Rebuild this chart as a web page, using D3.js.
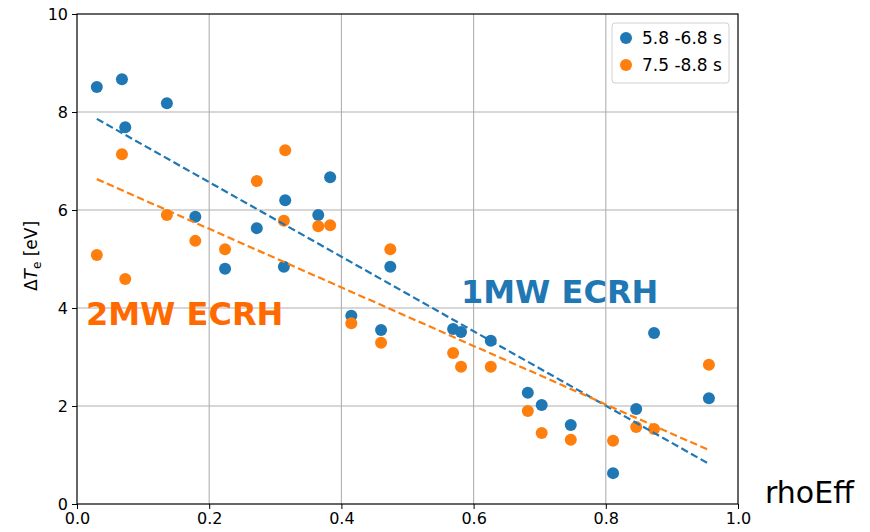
<!DOCTYPE html>
<html>
<head>
<meta charset="utf-8">
<script src="https://cdn.jsdelivr.net/npm/d3@7"></script>
<style>
  body { margin: 0; background: #fff; }
  svg { font-family: "DejaVu Sans", sans-serif; }
</style>
</head>
<body>
<div id="chart"></div>
<script>
// rhoEff positions (same for both time windows)
var rho = [0.030, 0.068, 0.073, 0.136, 0.179, 0.224, 0.272, 0.315, 0.313, 0.365, 0.383, 0.415,
           0.460, 0.474, 0.569, 0.581, 0.626, 0.682, 0.703, 0.747, 0.811, 0.846, 0.873, 0.956];
var teEarly = [8.51, 8.67, 7.69, 8.18, 5.86, 4.80, 5.63, 6.20, 4.84, 5.90, 6.67, 3.84,
               3.55, 4.84, 3.57, 3.51, 3.33, 2.27, 2.02, 1.61, 0.63, 1.94, 3.49, 2.16];
var teLate = [5.08, 7.14, 4.59, 5.90, 5.37, 5.20, 6.59, 7.22, 5.78, 5.67, 5.69, 3.69,
              3.29, 5.20, 3.08, 2.80, 2.80, 1.90, 1.45, 1.31, 1.29, 1.57, 1.53, 2.84];
// linear fit end points [rho, dTe]
var fitEarly = [[0.030, 7.86], [0.956, 0.82]];
var fitLate = [[0.030, 6.63], [0.956, 1.10]];
var seriesNames = ["5.8 -6.8 s", "7.5 -8.8 s"];
var xTicks = [0.0, 0.2, 0.4, 0.6, 0.8, 1.0];
var yTicks = [0, 2, 4, 6, 8, 10];

var blue = "#1f77b4", orange = "#ff7f0e";

var margin = {top: 14, right: 132, bottom: 28, left: 77};
var width = 870 - margin.left - margin.right;
var height = 532 - margin.top - margin.bottom;

var svg = d3.select("#chart").append("svg")
    .attr("width", 870)
    .attr("height", 532);
var g = svg.append("g")
    .attr("transform", "translate(" + margin.left + "," + margin.top + ")");

var x = d3.scaleLinear().domain([0, 1]).range([0, width]);
var y = d3.scaleLinear().domain([0, 10]).range([height, 0]);

// grid
g.selectAll(".vgrid").data(xTicks.slice(1, -1)).enter().append("line")
    .attr("x1", d => x(d)).attr("x2", d => x(d))
    .attr("y1", 0).attr("y2", height)
    .attr("stroke", "#b0b0b0").attr("stroke-width", 1.1);
g.selectAll(".hgrid").data(yTicks.slice(1, -1)).enter().append("line")
    .attr("y1", d => y(d)).attr("y2", d => y(d))
    .attr("x1", 0).attr("x2", width)
    .attr("stroke", "#b0b0b0").attr("stroke-width", 1.1);

// points, early first then late on top
g.selectAll(".early").data(rho).enter().append("circle")
    .attr("cx", d => x(d)).attr("cy", (d, i) => y(teEarly[i]))
    .attr("r", 6).attr("fill", blue);
g.selectAll(".late").data(rho).enter().append("circle")
    .attr("cx", d => x(d)).attr("cy", (d, i) => y(teLate[i]))
    .attr("r", 6).attr("fill", orange);

// fits
var line = d3.line().x(d => x(d[0])).y(d => y(d[1]));
g.append("path").datum(fitEarly).attr("d", line)
    .attr("fill", "none").attr("stroke", blue).attr("stroke-width", 2.2)
    .attr("stroke-dasharray", "7.4,3.6");
g.append("path").datum(fitLate).attr("d", line)
    .attr("fill", "none").attr("stroke", orange).attr("stroke-width", 2.2)
    .attr("stroke-dasharray", "7.4,3.6");

// axes
var xAxis = g.append("g").attr("transform", "translate(0," + height + ")")
    .call(d3.axisBottom(x).tickValues(xTicks).tickFormat(d3.format(".1f")).tickSizeOuter(0).tickSize(5).tickPadding(4));
var yAxis = g.append("g")
    .call(d3.axisLeft(y).tickValues(yTicks).tickFormat(d3.format("d")).tickSizeOuter(0).tickSize(5).tickPadding(4));
[xAxis, yAxis].forEach(a => {
  a.select(".domain").remove();
  a.selectAll("text").attr("font-size", 16).attr("fill", "#000").attr("font-family", "DejaVu Sans");
  a.selectAll("line").attr("stroke", "#000");
});
g.append("rect").attr("width", width).attr("height", height)
    .attr("fill", "none").attr("stroke", "#000").attr("stroke-width", 1.2);

// labels
var yl = svg.append("text")
    .attr("transform", "translate(37,256) rotate(-90)")
    .attr("text-anchor", "middle")
    .attr("font-size", 17);
yl.append("tspan").text("Δ");
yl.append("tspan").attr("font-style", "italic").text("T");
yl.append("tspan").attr("font-size", 12).attr("dy", 4).text("e");
yl.append("tspan").attr("dy", -4).text(" [eV]");

svg.append("text").attr("x", 765).attr("y", 503)
    .attr("font-size", 30).text("rhoEff");

svg.append("text").attr("x", 86).attr("y", 325)
    .attr("font-size", 32).attr("font-weight", "bold")
    .attr("fill", "#ff6a00").text("2MW ECRH");
svg.append("text").attr("x", 461).attr("y", 303)
    .attr("font-size", 32).attr("font-weight", "bold")
    .attr("fill", blue).text("1MW ECRH");

// legend
var leg = svg.append("g").attr("transform", "translate(612,23)");
leg.append("rect").attr("width", 117).attr("height", 60).attr("rx", 3)
    .attr("fill", "#fff").attr("fill-opacity", 0.8)
    .attr("stroke", "#d0d0d0");
seriesNames.forEach((name, i) => {
  leg.append("circle").attr("cx", 14).attr("cy", 15 + i * 27)
      .attr("r", 6).attr("fill", i === 0 ? blue : orange);
  leg.append("text").attr("x", 30).attr("y", 21 + i * 27)
      .attr("font-size", 17).text(name);
});
</script>
</body>
</html>
